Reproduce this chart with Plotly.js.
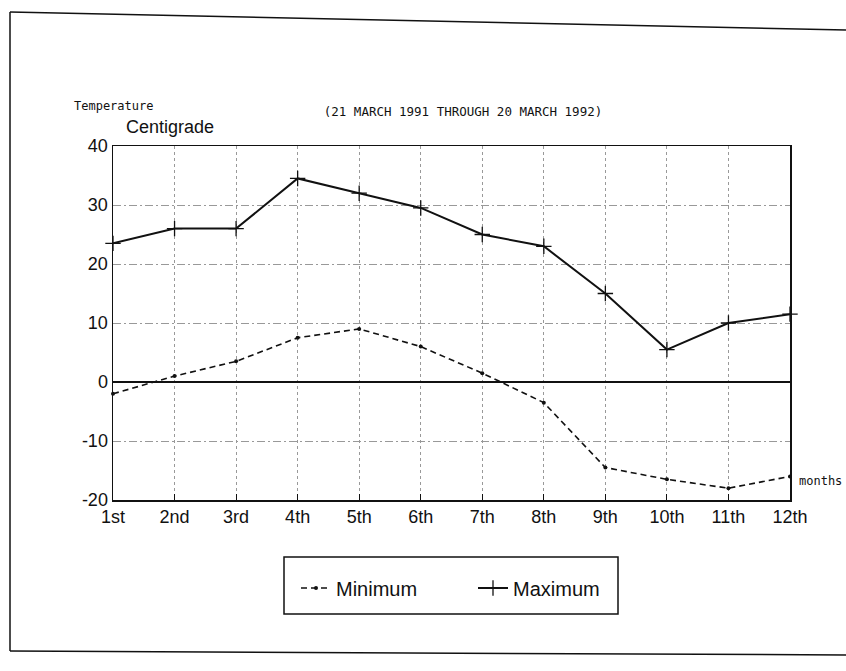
<!DOCTYPE html>
<html>
<head>
<meta charset="utf-8">
<script src="https://cdn.plot.ly/plotly-3.0.1.min.js"></script>
<style>
html,body{margin:0;padding:0;background:#fff;}
#chart{width:846px;height:671px;}
</style>
</head>
<body>
<div id="chart"></div>
<script>
// Data
var months = ["1st","2nd","3rd","4th","5th","6th","7th","8th","9th","10th","11th","12th"];
var minimumTemp = [-2, 1, 3.5, 7.5, 9, 6, 1.5, -3.5, -14.5, -16.5, -18, -16];
var maximumTemp = [23.5, 26, 26, 34.5, 32, 29.5, 25, 23, 15, 5.5, 10, 11.5];
var yTicks = [-20, -10, 0, 10, 20, 30, 40];
var yTickLabels = ["-20", "-10", "0", "10", "20", "30", "40"];

// plot area geometry (pixels)
var L = 113, R = 56, T = 146, B = 171;
var W = 846 - L - R, H = 671 - T - B;
function px(x){ return (x - L) / W; }
function py(y){ return (671 - B - y) / H; }

var traces = [
  {
    x: months, y: minimumTemp, name: "Minimum", type: "scatter", mode: "lines+markers",
    line: {color: "#111", width: 1.6, dash: "6px,4px"},
    marker: {symbol: "circle", size: 4, color: "#111"},
    cliponaxis: false
  },
  {
    x: months, y: maximumTemp, name: "Maximum", type: "scatter", mode: "lines+markers",
    line: {color: "#111", width: 2},
    marker: {symbol: "cross-thin", size: 11, color: "#111", line: {color: "#111", width: 1.3}},
    cliponaxis: false
  }
];

var lineStyle = {color: "#111", width: 1.5};
var layout = {
  width: 846, height: 671,
  paper_bgcolor: "#fff", plot_bgcolor: "#fff",
  margin: {l: L, r: R, t: T, b: B, pad: 0},
  font: {family: "Liberation Sans, Arial, sans-serif", color: "#111"},
  title: {
    text: "(21 MARCH 1991 THROUGH 20 MARCH 1992)",
    font: {family: "DejaVu Sans Mono, monospace", size: 12.5, color: "#111"},
    xref: "container", yref: "container", x: 463/846, y: 1 - 112/671,
    xanchor: "center", yanchor: "middle"
  },
  xaxis: {
    type: "category", range: [0, 11],
    showline: true, linecolor: "#111", linewidth: 1.5, mirror: true,
    ticks: "inside", ticklen: 6, tickcolor: "#111", tickwidth: 1,
    showgrid: true, gridcolor: "#999", gridwidth: 1, griddash: "dot",
    tickfont: {size: 18, color: "#111"},
    zeroline: false, fixedrange: true
  },
  yaxis: {
    range: [-20, 40], tickvals: yTicks, ticktext: yTickLabels,
    showline: true, linecolor: "#111", linewidth: 1.5, mirror: true,
    ticks: "", showgrid: true, gridcolor: "#999", gridwidth: 1, griddash: "8px,3px,2px,3px",
    zeroline: true, zerolinecolor: "#111", zerolinewidth: 1.5,
    tickfont: {size: 18, color: "#111"},
    fixedrange: true
  },
  showlegend: true,
  legend: {
    orientation: "h", x: px(296), xanchor: "left", y: py(588), yanchor: "middle",
    bgcolor: "rgba(0,0,0,0)", borderwidth: 0,
    font: {size: 20, color: "#111"},
    entrywidth: 132, entrywidthmode: "pixels"
  },
  annotations: [
    {text: "Temperature", xref: "paper", yref: "paper", x: px(72), y: py(106), xanchor: "left", yanchor: "middle",
     showarrow: false, font: {family: "DejaVu Sans Mono, monospace", size: 12, color: "#111"}},
    {text: "Centigrade", xref: "paper", yref: "paper", x: px(170), y: py(127), xanchor: "center", yanchor: "middle",
     showarrow: false, font: {size: 18, color: "#111"}},
    {text: "months", xref: "paper", yref: "paper", x: px(797), y: py(481), xanchor: "left", yanchor: "middle",
     showarrow: false, font: {family: "DejaVu Sans Mono, monospace", size: 12, color: "#111"}}
  ],
  shapes: [
    // legend box
    {type: "rect", xref: "paper", yref: "paper", x0: px(284), x1: px(618), y0: py(557), y1: py(614),
     line: {color: "#111", width: 1.5}, fillcolor: "rgba(0,0,0,0)"},
    // outer page frame
    {type: "line", xref: "paper", yref: "paper", x0: px(10), y0: py(12), x1: px(846), y1: py(30), line: lineStyle},
    {type: "line", xref: "paper", yref: "paper", x0: px(10), y0: py(12), x1: px(10), y1: py(651), line: lineStyle},
    {type: "line", xref: "paper", yref: "paper", x0: px(10), y0: py(651), x1: px(846), y1: py(655), line: lineStyle}
  ]
};

Plotly.newPlot("chart", traces, layout, {staticPlot: true, displayModeBar: false});
</script>
</body>
</html>
